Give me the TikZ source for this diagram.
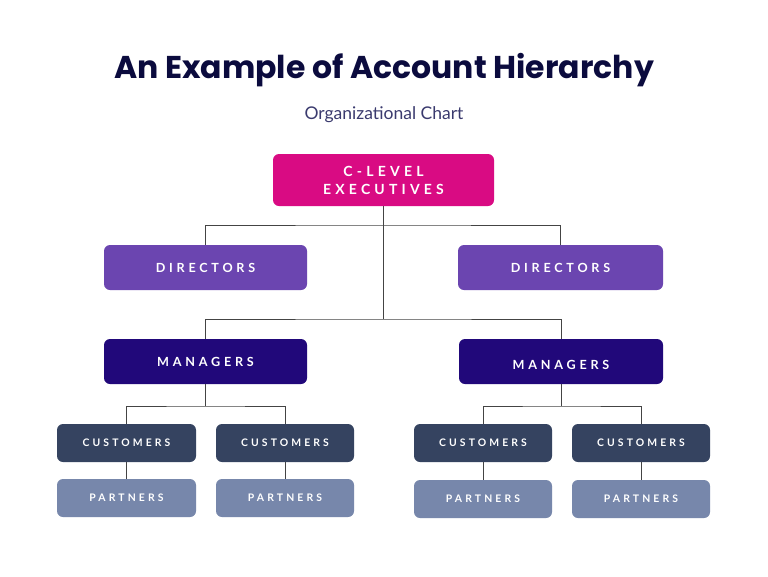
\documentclass[tikz,border=0pt]{standalone}
\usepackage{fontspec}
\setmainfont{Lato}
\newfontfamily\titlefont{Poppins}
\newfontfamily\labelfont{Lato}[LetterSpace=30]
\usetikzlibrary{positioning}
\definecolor{titlec}{HTML}{0B0B3E}
\definecolor{subc}{HTML}{3A3A6E}
\definecolor{cexec}{HTML}{D90B83}
\definecolor{cdir}{HTML}{6B45B0}
\definecolor{cman}{HTML}{21087A}
\definecolor{ccust}{HTML}{354360}
\definecolor{cpart}{HTML}{7787AB}
\definecolor{linec}{HTML}{444444}
\tikzset{
  box/.style={rounded corners=6pt, inner sep=0pt, text=white, align=center,
    font=\labelfont\bfseries\fontsize{12.6}{17}\selectfont},
  execbox/.style={box, fill=cexec, minimum width=221pt, minimum height=52pt,
    font=\labelfont\bfseries\fontsize{14}{18}\selectfont},
  dirbox/.style={box, fill=cdir, minimum height=45pt},
  manbox/.style={box, fill=cman, minimum height=45pt},
  custbox/.style={box, fill=ccust, minimum width=138pt, minimum height=38pt,
    font=\labelfont\bfseries\fontsize{10.4}{12}\selectfont},
  partbox/.style={box, fill=cpart, minimum width=138pt, minimum height=38pt,
    font=\labelfont\bfseries\fontsize{10.4}{12}\selectfont},
  conn/.style={draw=linec, line width=1pt}
}
\begin{document}
\begin{tikzpicture}[x=1pt,y=-1pt]
\useasboundingbox (0,0) rectangle (768,576);
\fill[white] (0,0) rectangle (768,576);
\node[font=\titlefont\bfseries\fontsize{31.5}{36}\selectfont, text=titlec] (title) at (384,70) {An Example of Account Hierarchy};
\node[font=\fontsize{17.5}{20}\selectfont, text=subc] (sub) at (384,115) {Organizational Chart};

\node[execbox] (ce) at (383.5,180) {C-LEVEL\\EXECUTIVES};
\node[dirbox, minimum width=203pt] (d1) at (205.5,267.5) {DIRECTORS};
\node[dirbox, minimum width=205pt] (d2) at (560.5,267.5) {DIRECTORS};
\node[manbox, minimum width=203pt] (m1) at (205.5,361.5) {MANAGERS};
\node[manbox, minimum width=204pt, text height=15pt, text depth=0pt] (m2) at (561,361.5) {MANAGERS};

\node[custbox, minimum width=139pt] (c1) at (126.5,443) {CUSTOMERS};
\node[custbox] (c2) at (285,443) {CUSTOMERS};
\node[custbox] (c3) at (483,443) {CUSTOMERS};
\node[custbox] (c4) at (641,443) {CUSTOMERS};
\node[partbox, minimum width=139pt] (p1) at (126.5,498) {PARTNERS};
\node[partbox] (p2) at (285,498) {PARTNERS};
\node[partbox] (p3) at (483,499) {PARTNERS};
\node[partbox] (p4) at (641,499) {PARTNERS};

\coordinate (j1) at (383.5,225);
\coordinate (j2) at (383.5,319);
\coordinate (j3) at (205.5,406);
\coordinate (j4) at (561,406);

\draw[conn] (ce.south) -- (j2);
\draw[conn] (d1.north) |- (j1) -| (d2.north);
\draw[conn] (m1.north) |- (j2) -| (m2.north);
\draw[conn] (m1.south) -- (j3);
\draw[conn] (c1.north) |- (j3) -| (c2.north);
\draw[conn] (m2.south) -- (j4);
\draw[conn] (c3.north) |- (j4) -| (c4.north);
\draw[conn] (c1) -- (p1);
\draw[conn] (c2) -- (p2);
\draw[conn] (c3) -- (p3);
\draw[conn] (c4) -- (p4);
\end{tikzpicture}
\end{document}
